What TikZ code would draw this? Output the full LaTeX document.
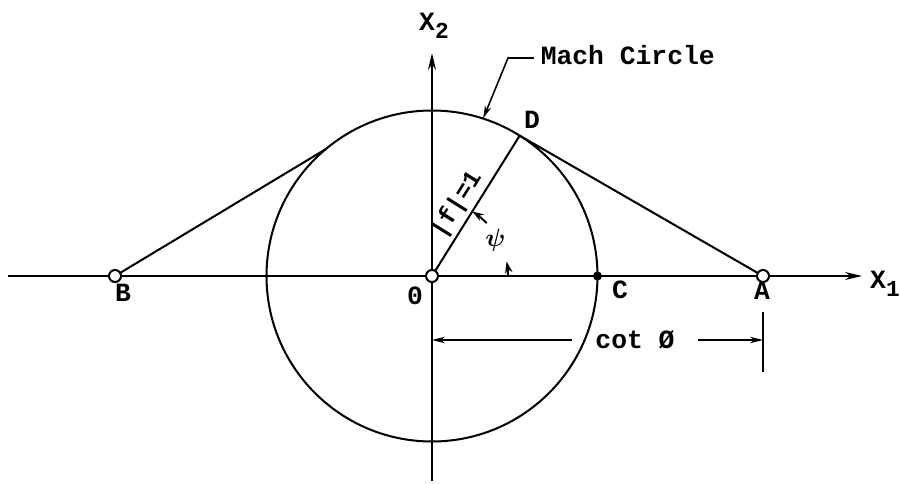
\documentclass[tikz,border=0pt]{standalone}
\usepackage{fontspec}
\usepackage{tikz}
\usetikzlibrary{positioning,calc,arrows.meta}
\newfontfamily\typefont{Liberation Mono}
\newcommand{\sub}[1]{\raisebox{-0.55ex}{\fontsize{13}{13}\selectfont #1}}

\begin{document}
\begin{tikzpicture}[line width=1.15pt,
  lbl/.style={font=\typefont\bfseries\fontsize{15}{17}\selectfont,inner sep=1pt},
  hole/.style={circle,draw,fill=white,line width=1.15pt,inner sep=0pt,minimum size=2.4mm},
  dot/.style={circle,fill,inner sep=0pt,minimum size=1.8mm},
  axis/.style={-{Stealth[length=3.4mm,width=1.6mm]}},
  dim/.style={-{Stealth[length=2.6mm,width=1.3mm]},line width=0.9pt},
  tick/.style={line width=1.1pt,-{Stealth[length=2.3mm,width=1.5mm]}}]
\useasboundingbox (-8.64,-4.14) rectangle (9.36,5.52);
\coordinate (O) at (0,0);
\coordinate (A) at (6.62,0);
\coordinate (B) at (-6.34,0);
\coordinate (C) at (3.31,0);
\coordinate (D) at (58:3.31);
\coordinate (T) at (130:3.31);
\coordinate (tip) at (72:3.31);
% mach circle and axes
\draw (O) circle[radius=3.31];
\draw[axis] (-8.48,0) -- (8.6,0);
\draw[axis] (0,-4.1) -- (0,4.46);
\node[lbl] (x1) at (9.06,-0.16) {X\sub{1}};
\node[lbl] (x2) at (0.04,5.0) {X\sub{2}};
% tangents and radius
\draw (B) -- (T);
\draw (A) -- (D);
\draw (O) -- (D);
\node[lbl,font=\typefont\bfseries\fontsize{14}{16}\selectfont,rotate=58] (f) at (0.5,1.43) {|f|=1};
% angle psi
\draw[tick] (44:1.52) arc[start angle=44,end angle=58,radius=1.52];
\draw[tick] (0:1.52) arc[start angle=0,end angle=11,radius=1.52];
\node[font=\boldmath\fontsize{15}{17}\selectfont] (psi) at (1.27,0.72) {$\psi$};
% points
\node[hole] (nO) at (O) {};
\node[hole] (nA) at (A) {};
\node[hole] (nB) at (B) {};
\node[dot] (nC) at (C) {};
\node[lbl] at (-0.34,-0.4) {0};
\node[lbl] at (-6.18,-0.34) {B};
\node[lbl] at (3.76,-0.27) {C};
\node[lbl] at (6.6,-0.3) {A};
\node[lbl] at (2.0,3.12) {D};
% label of the circle
\node[lbl,anchor=west] (mach) at (2.12,4.42) {Mach Circle};
\coordinate (lead) at (1.52,4.36);
\draw[line width=0.9pt,-{Stealth[length=2.6mm,width=1.3mm]}] ($(mach.west)+(-0.08,-0.06)$) -- (lead) -- (tip);
% dimension cot phi
\node[lbl,minimum width=2.48cm] (cot) at (4.06,-1.28) {cot \O};
\draw ($(A)+(0,-0.72)$) coordinate (e1) -- ($(A)+(0,-1.92)$) coordinate (e2);
\draw[dim] (cot.west) -- (cot.west -| O);
\draw[dim] (cot.east) -- (cot.east -| A);
\end{tikzpicture}
\end{document}
